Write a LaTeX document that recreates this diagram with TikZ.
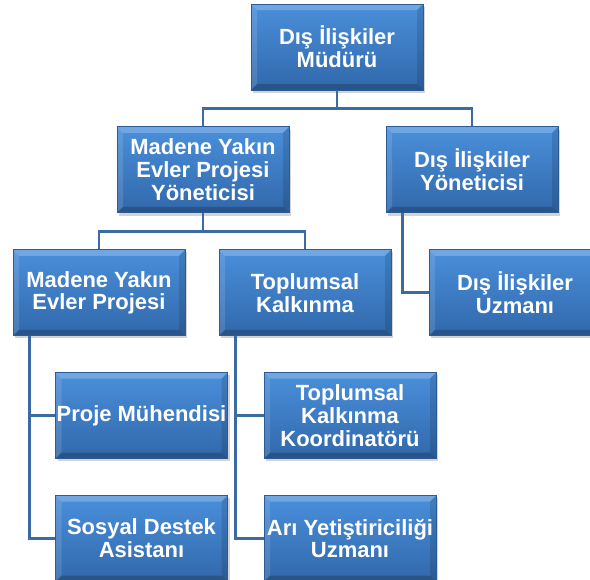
\documentclass[tikz,border=0pt]{standalone}
\usepackage{fontspec}
\setmainfont{Liberation Sans}
\usepackage{tikz}
\usetikzlibrary{positioning,shadows}
\definecolor{boxtop}{HTML}{4A8FDB}
\definecolor{boxbot}{HTML}{3168AA}
\definecolor{boxrim}{HTML}{2B5C96}
\definecolor{linkcol}{HTML}{3A6CA3}
\tikzset{
    %Define style for boxes
    unit/.style={
           rectangle,
           draw=boxrim, line width=0.5pt,
           top color=boxtop,
           bottom color=boxbot,
           minimum width=3.44cm,
           minimum height=1.72cm,
           inner sep=0pt,
           align=center,
           text=white,
           font=\fontsize{12.5}{13}\selectfont\bfseries,
           drop shadow={shadow xshift=1.2pt,shadow yshift=-1.5pt,opacity=.35},
           path picture={
             \fill[white,opacity=.22] (path picture bounding box.north west)
               -- (path picture bounding box.north east)
               -- ([shift={(-0.12,-0.12)}]path picture bounding box.north east)
               -- ([shift={(0.12,-0.12)}]path picture bounding box.north west) -- cycle;
             \fill[white,opacity=.12] (path picture bounding box.north west)
               -- (path picture bounding box.south west)
               -- ([shift={(0.12,0.12)}]path picture bounding box.south west)
               -- ([shift={(0.12,-0.12)}]path picture bounding box.north west) -- cycle;
             \fill[black,opacity=.2] (path picture bounding box.south west)
               -- (path picture bounding box.south east)
               -- ([shift={(-0.12,0.12)}]path picture bounding box.south east)
               -- ([shift={(0.12,0.12)}]path picture bounding box.south west) -- cycle;
             \fill[black,opacity=.12] (path picture bounding box.north east)
               -- (path picture bounding box.south east)
               -- ([shift={(-0.12,0.12)}]path picture bounding box.south east)
               -- ([shift={(-0.12,-0.12)}]path picture bounding box.north east) -- cycle;
           }},
    % Define connector style
    link/.style={
           draw=linkcol,
           line width=1.6pt}
}

\begin{document}
\begin{tikzpicture}[node distance=0.72cm]
\useasboundingbox (0,0) rectangle (11.8,-11.6);
\clip (0,0) rectangle (11.8,-11.6);
\coordinate (mtop) at (6.74,-0.94);
\node[unit](M) at (mtop){Dış İlişkiler\\Müdürü};
\node[unit, below=of M, xshift=-2.68cm](Y){Madene Yakın\\Evler Projesi\\Yöneticisi};
\node[unit, below=of M, xshift=2.7cm](DY){Dış İlişkiler\\Yöneticisi};
\node[unit, below=of Y, xshift=-2.08cm](P){Madene Yakın\\Evler Projesi};
\node[unit, below=of Y, xshift=2.04cm](T){Toplumsal\\Kalkınma};
\node[unit, below=of DY, xshift=0.86cm](DU){Dış İlişkiler\\Uzmanı};
\node[unit, below=of P, xshift=0.85cm](PM){Proje Mühendisi};
\node[unit, below=of PM](SD){Sosyal Destek\\Asistanı};
\node[unit, below=of T, xshift=0.9cm](TK){Toplumsal\\Kalkınma\\Koordinatörü};
\node[unit, below=of TK](AY){Arı Yetiştiriciliği\\Uzmanı};
% elbow connectors
\draw[link] (M.south) -- ++(0,-0.36) -| (Y.north);
\draw[link] (M.south) -- ++(0,-0.36) -| (DY.north);
\draw[link] (Y.south) -- ++(0,-0.36) -| (P.north);
\draw[link] (Y.south) -- ++(0,-0.36) -| (T.north);
\draw[link] ([xshift=0.34cm]DY.south west) |- (DU.west);
\draw[link] ([xshift=0.34cm]P.south west) |- (PM.west);
\draw[link] ([xshift=0.34cm]P.south west) |- (SD.west);
\draw[link] ([xshift=0.34cm]T.south west) |- (TK.west);
\draw[link] ([xshift=0.34cm]T.south west) |- (AY.west);
\end{tikzpicture}
\end{document}
